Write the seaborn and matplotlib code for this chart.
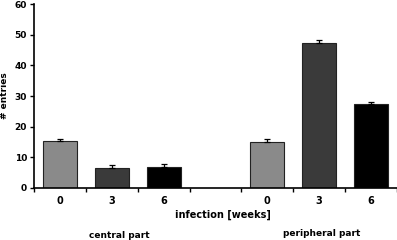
import matplotlib
matplotlib.use("Agg")
import matplotlib.pyplot as plt
import seaborn as sns
import pandas as pd
import numpy as np

# data
groups = ["c0", "c3", "c6", "p0", "p3", "p6"]
weeks = ["0", "3", "6", "0", "3", "6"]
means = [15.2, 6.6, 6.9, 15.0, 47.4, 27.3]
sems = [0.9, 0.8, 0.9, 0.9, 0.8, 0.9]
colors = ["#8a8a8a", "#3a3a3a", "#000000", "#8a8a8a", "#3a3a3a", "#000000"]
order = ["c0", "c3", "c6", "gap", "p0", "p3", "p6"]

df = pd.DataFrame({"group": groups, "entries": means})

sns.set_style("ticks", {"axes.edgecolor": "black", "text.color": "black",
                        "xtick.color": "black", "ytick.color": "black",
                        "axes.labelcolor": "black"})
plt.rcParams["font.family"] = ["DejaVu Sans"]
plt.rcParams["font.weight"] = "bold"

fig = plt.figure(figsize=(3.97, 2.4), dpi=100)
ax = fig.add_axes([0.0856, 0.217, 0.9144, 0.766])

pal = dict(zip(groups, colors))
sns.barplot(data=df, x="group", y="entries", order=order, hue="group",
            palette=pal, width=0.66, edgecolor="#222222", linewidth=0.8,
            legend=False, ax=ax)

# error bars (upper half only)
pos = [order.index(g) for g in groups]
ax.errorbar(pos, means, yerr=[np.zeros(len(sems)), sems], fmt="none",
            ecolor="black", elinewidth=0.9, capsize=2.5, capthick=0.9)

ax.set_xlim(-0.5, 6.5)
ax.set_ylim(0, 60)
ax.set_yticks(range(0, 61, 10))
ax.set_xticks(pos)
ax.set_xticklabels(weeks, fontsize=7, fontweight="bold")
ax.tick_params(axis="x", length=0, pad=6)
ax.set_xticks(np.arange(-0.5, 6.6, 1.0), minor=True)
ax.tick_params(axis="x", which="minor", length=3, width=1, direction="out")
ax.tick_params(axis="y", labelsize=6.5, length=3, width=1, pad=2)
for lab in ax.get_yticklabels():
    lab.set_fontweight("bold")
for s in ["top", "right"]:
    ax.spines[s].set_visible(False)
ax.spines["left"].set_linewidth(1.2)
ax.spines["bottom"].set_linewidth(1.2)

ax.set_xlabel("")
ax.set_ylabel("# entries", fontsize=6.5, fontweight="bold")
ax.yaxis.set_label_coords(-0.068, 0.5)

fig.text(223 / 397, 1 - 215 / 240, "infection [weeks]", ha="center", va="center",
         fontsize=7, fontweight="bold")
fig.text(119 / 397, 1 - 235 / 240, "central part", ha="center", va="center",
         fontsize=6.5, fontweight="bold")
fig.text(322 / 397, 1 - 233 / 240, "peripheral part", ha="center", va="center",
         fontsize=6.5, fontweight="bold")

fig.savefig("out.png", dpi=100)
